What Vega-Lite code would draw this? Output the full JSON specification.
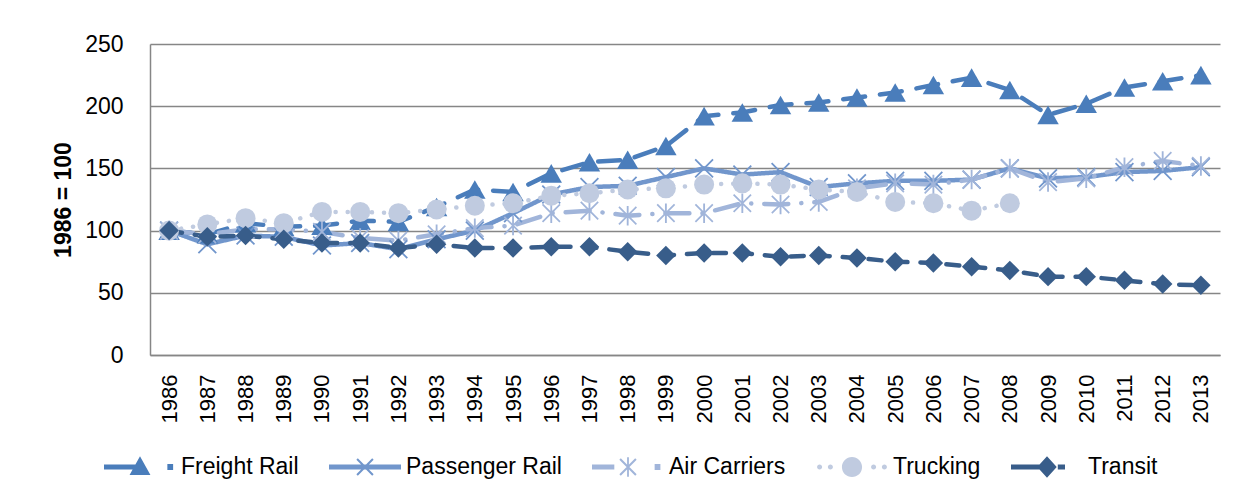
{
  "$schema": "https://vega.github.io/schema/vega-lite/v6.json",
  "width": 1070,
  "height": 311,
  "autosize": {"type": "none"},
  "padding": {"left": 150, "top": 44, "right": 14, "bottom": 147},
  "background": "white",
  "config": {
    "view": {"stroke": null},
    "font": "Liberation Sans",
    "axis": {
      "labelFont": "Liberation Sans",
      "titleFont": "Liberation Sans",
      "labelColor": "#000000",
      "titleColor": "#000000",
      "domainColor": "#868686",
      "gridColor": "#868686",
      "domainWidth": 1.5,
      "gridWidth": 1.3
    }
  },
  "data": {
    "values": [
      {"year": "1986", "Freight Rail": 100, "Passenger Rail": 100, "Air Carriers": 100, "Trucking": 100, "Transit": 100},
      {"year": "1987", "Freight Rail": 97, "Passenger Rail": 89, "Air Carriers": 97, "Trucking": 105, "Transit": 95},
      {"year": "1988", "Freight Rail": 106, "Passenger Rail": 96, "Air Carriers": 101, "Trucking": 110, "Transit": 96},
      {"year": "1989", "Freight Rail": 103, "Passenger Rail": 95, "Air Carriers": 101, "Trucking": 106, "Transit": 93},
      {"year": "1990", "Freight Rail": 104, "Passenger Rail": 88, "Air Carriers": 99, "Trucking": 115, "Transit": 90},
      {"year": "1991", "Freight Rail": 108, "Passenger Rail": 90, "Air Carriers": 94, "Trucking": 115, "Transit": 90},
      {"year": "1992", "Freight Rail": 107, "Passenger Rail": 85, "Air Carriers": 92, "Trucking": 114, "Transit": 86},
      {"year": "1993", "Freight Rail": 119, "Passenger Rail": 93, "Air Carriers": 97, "Trucking": 117, "Transit": 89},
      {"year": "1994", "Freight Rail": 133, "Passenger Rail": 100, "Air Carriers": 102, "Trucking": 120, "Transit": 86},
      {"year": "1995", "Freight Rail": 131, "Passenger Rail": 114, "Air Carriers": 104, "Trucking": 122, "Transit": 86},
      {"year": "1996", "Freight Rail": 146, "Passenger Rail": 129, "Air Carriers": 114, "Trucking": 128, "Transit": 87},
      {"year": "1997", "Freight Rail": 155, "Passenger Rail": 135, "Air Carriers": 116, "Trucking": 130, "Transit": 87},
      {"year": "1998", "Freight Rail": 157, "Passenger Rail": 136, "Air Carriers": 112, "Trucking": 133, "Transit": 83},
      {"year": "1999", "Freight Rail": 168, "Passenger Rail": 143, "Air Carriers": 114, "Trucking": 134, "Transit": 80},
      {"year": "2000", "Freight Rail": 192, "Passenger Rail": 150, "Air Carriers": 114, "Trucking": 137, "Transit": 82},
      {"year": "2001", "Freight Rail": 195, "Passenger Rail": 145, "Air Carriers": 122, "Trucking": 138, "Transit": 82},
      {"year": "2002", "Freight Rail": 201, "Passenger Rail": 147, "Air Carriers": 121, "Trucking": 137, "Transit": 79},
      {"year": "2003", "Freight Rail": 203, "Passenger Rail": 135, "Air Carriers": 123, "Trucking": 133, "Transit": 80},
      {"year": "2004", "Freight Rail": 207, "Passenger Rail": 138, "Air Carriers": 134, "Trucking": 131, "Transit": 78},
      {"year": "2005", "Freight Rail": 211, "Passenger Rail": 140, "Air Carriers": 138, "Trucking": 123, "Transit": 75},
      {"year": "2006", "Freight Rail": 217, "Passenger Rail": 140, "Air Carriers": 137, "Trucking": 122, "Transit": 74},
      {"year": "2007", "Freight Rail": 223, "Passenger Rail": 141, "Air Carriers": 141, "Trucking": 116, "Transit": 71},
      {"year": "2008", "Freight Rail": 213, "Passenger Rail": 150, "Air Carriers": 150, "Trucking": 122, "Transit": 68},
      {"year": "2009", "Freight Rail": 193, "Passenger Rail": 142, "Air Carriers": 139, "Trucking": null, "Transit": 63},
      {"year": "2010", "Freight Rail": 202, "Passenger Rail": 143, "Air Carriers": 142, "Trucking": null, "Transit": 63},
      {"year": "2011", "Freight Rail": 215, "Passenger Rail": 147, "Air Carriers": 151, "Trucking": null, "Transit": 60},
      {"year": "2012", "Freight Rail": 220, "Passenger Rail": 148, "Air Carriers": 156, "Trucking": null, "Transit": 57},
      {"year": "2013", "Freight Rail": 225, "Passenger Rail": 151, "Air Carriers": 152, "Trucking": null, "Transit": 56}
    ]
  },
  "transform": [
    {"fold": ["Freight Rail", "Passenger Rail", "Air Carriers", "Trucking", "Transit"], "as": ["series", "value"]},
    {"filter": "datum.value != null"}
  ],
  "encoding": {
    "x": {
      "field": "year",
      "type": "ordinal",
      "scale": {"type": "point", "padding": 0.5},
      "axis": {"title": null, "labelAngle": -90, "labelFontSize": 22, "labelPadding": 19, "ticks": false, "grid": false, "domain": true}
    },
    "y": {
      "field": "value",
      "type": "quantitative",
      "scale": {"domain": [0, 250], "nice": false},
      "axis": {
        "values": [0, 50, 100, 150, 200, 250],
        "title": "1986 = 100",
        "titleFontSize": 23,
        "titleFontWeight": "bold",
        "titleX": -87,
        "titleBaseline": "middle",
        "labelFontSize": 23,
        "labelPadding": 27,
        "ticks": false,
        "grid": true,
        "domain": true
      }
    }
  },
  "resolve": {"legend": {"color": "independent"}},
  "layer": [
    {
      "mark": {"type": "line", "strokeWidth": 4.5, "strokeCap": "round", "strokeJoin": "round"},
      "encoding": {
        "color": {
          "field": "series",
          "type": "nominal",
          "scale": {
            "domain": ["Freight Rail", "Passenger Rail", "Air Carriers", "Trucking", "Transit"],
            "range": ["#4a7dbb", "#7196cc", "#a1b5da", "#c0cbe0", "#385d8a"]
          },
          "legend": null
        },
        "strokeDash": {
          "field": "series",
          "type": "nominal",
          "scale": {
            "domain": ["Freight Rail", "Passenger Rail", "Air Carriers", "Trucking", "Transit"],
            "range": [[22, 15], [1, 0], [24, 13, 0.1, 13], [0.1, 12], [13, 13]]
          },
          "legend": null
        }
      }
    },
    {
      "mark": {"type": "point", "filled": true, "opacity": 1, "strokeWidth": 0},
      "encoding": {
        "color": {
          "field": "series",
          "type": "nominal",
          "scale": {
            "domain": ["Freight Rail", "Passenger Rail", "Air Carriers", "Trucking", "Transit"],
            "range": ["#4a7dbb", "#7196cc", "#a1b5da", "#c0cbe0", "#385d8a"]
          },
          "legend": {
            "orient": "none",
            "legendX": -46,
            "legendY": 387,
            "direction": "horizontal",
            "columns": 5,
            "title": null,
            "padding": 0,
            "symbolSize": 5184,
            "symbolStrokeWidth": 0,
            "symbolOpacity": 1,
            "symbolType": {"expr": "datum.value === 'Freight Rail' ? 'M-1,-0.07L-0.05,-0.07L-0.05,0.07L-1,0.07Z M0,-0.3L0.29,0.22L-0.29,0.22Z M0.76,-0.08L0.92,-0.08L0.92,0.08L0.76,0.08Z' : datum.value === 'Passenger Rail' ? 'M-1,-0.07L1,-0.07L1,0.07L-1,0.07Z M-0.2,-0.24L0.24,0.2L0.2,0.24L-0.24,-0.2Z M-0.2,0.24L-0.24,0.2L0.2,-0.24L0.24,-0.2Z' : datum.value === 'Air Carriers' ? 'M-1,-0.07L-0.38,-0.07L-0.38,0.07L-1,0.07Z M-0.2,-0.24L0.24,0.2L0.2,0.24L-0.24,-0.2Z M-0.2,0.24L-0.24,0.2L0.2,-0.24L0.24,-0.2Z M-0.025,-0.27L0.025,-0.27L0.025,0.27L-0.025,0.27Z M0.74,-0.08L0.9,-0.08L0.9,0.08L0.74,0.08Z' : datum.value === 'Trucking' ? 'M-0.97,0A0.07,0.07,0,1,1,-0.83,0A0.07,0.07,0,1,1,-0.97,0Z M-0.67,0A0.07,0.07,0,1,1,-0.53,0A0.07,0.07,0,1,1,-0.67,0Z M-0.28,0A0.28,0.28,0,1,1,0.28,0A0.28,0.28,0,1,1,-0.28,0Z M0.53,0A0.07,0.07,0,1,1,0.67,0A0.07,0.07,0,1,1,0.53,0Z M0.83,0A0.07,0.07,0,1,1,0.97,0A0.07,0.07,0,1,1,0.83,0Z' : 'M-1,-0.07L0,-0.07L0,0.07L-1,0.07Z M0,-0.3L0.27,0L0,0.3L-0.27,0Z M0.3,-0.07L0.5,-0.07L0.5,0.07L0.3,0.07Z'"},
            "labelFontSize": 23,
            "labelFont": "Liberation Sans",
            "labelColor": "#000000",
            "labelOffset": 5,
            "columnPadding": 30
          }
        },
        "shape": {
          "field": "series",
          "type": "nominal",
          "scale": {
            "domain": ["Freight Rail", "Passenger Rail", "Air Carriers", "Trucking", "Transit"],
            "range": [
              "triangle-up",
              "M-0.79,-0.91L0.91,0.79L0.79,0.91L-0.91,-0.79Z M-0.79,0.91L-0.91,0.79L0.79,-0.91L0.91,-0.79Z",
              "M-0.79,-0.91L0.91,0.79L0.79,0.91L-0.91,-0.79Z M-0.79,0.91L-0.91,0.79L0.79,-0.91L0.91,-0.79Z M-0.09,-0.95L0.09,-0.95L0.09,0.95L-0.09,0.95Z",
              "circle",
              "diamond"
            ]
          },
          "legend": null
        },
        "size": {
          "field": "series",
          "type": "nominal",
          "scale": {
            "domain": ["Freight Rail", "Passenger Rail", "Air Carriers", "Trucking", "Transit"],
            "range": [460, 380, 400, 560, 380]
          },
          "legend": null
        }
      }
    }
  ]
}
